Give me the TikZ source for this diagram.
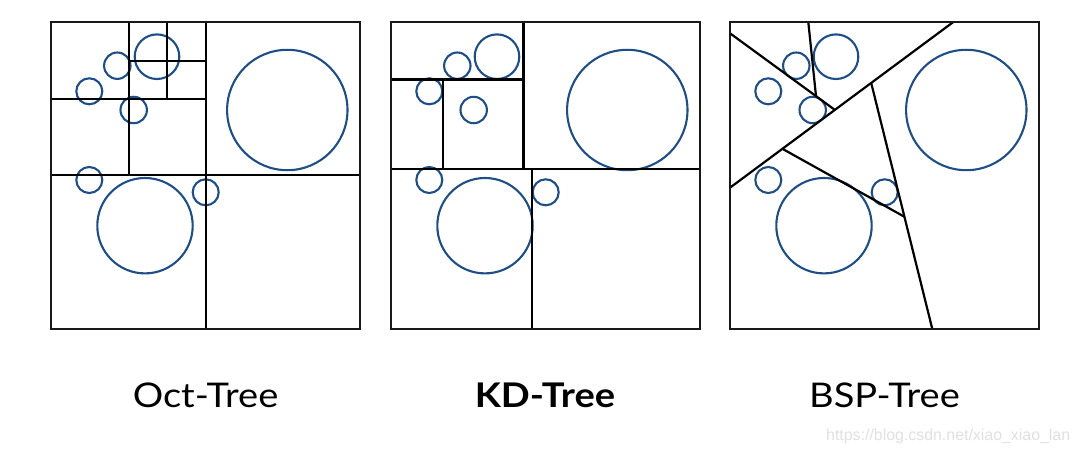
\documentclass[tikz,border=0pt]{standalone}
\usepackage{fontspec}
\setmainfont{Lato}[FakeStretch=1.12]
\newfontfamily\markfont{Liberation Sans}
\definecolor{ballblue}{RGB}{31,78,134}
\tikzset{
  cell/.style={line width=2.2pt, black},
  frame/.style={line width=2.6pt, black!90},
  ball/.style={line width=2.1pt, ballblue},
  caption/.style={font=\fontsize{34}{40}\selectfont, anchor=base}
}
% the same eight balls in every panel (box is 309 x 307)
\newcommand{\drawballs}{%
  \draw [ball] (66.3,43.7) circle (13.2);
  \draw [ball] (38.3,69.3) circle (13);
  \draw [ball] (106,34.7) circle (22.3);
  \draw [ball] (82.7,88) circle (13.2);
  \draw [ball] (38.3,158) circle (13);
  \draw [ball] (154.7,170.3) circle (13);
  \draw [ball] (94,203.7) circle (47.7);
  \draw [ball] (236.3,88) circle (60.2);
}
\begin{document}
\begin{tikzpicture}[x=1pt, y=-1pt]
  \useasboundingbox (0,0) rectangle (1080,452);
  % Oct-Tree
  \begin{scope}[shift={(51,22)}]
    \drawballs
    \draw [cell] (154.7,0) -- (154.7,307);
    \draw [cell] (0,153) -- (309,153);
    \draw [cell] (77.7,0) -- (77.7,153);
    \draw [cell] (0,76.7) -- (154.7,76.7);
    \draw [cell] (116,0) -- (116,76.7);
    \draw [cell] (77.7,38.7) -- (154.7,38.7);
    \draw [frame] (0,0) rectangle (309,307);
  \end{scope}
  % KD-Tree
  \begin{scope}[shift={(391,22)}]
    \drawballs
    \draw [cell] (0,147.3) -- (309,147.3);
    \draw [cell] (141.3,147.3) -- (141.3,307);
    \draw [cell, line width=2.6pt] (132.3,0) -- (132.3,147.3);
    \draw [cell, line width=2.6pt] (0,57.7) -- (132.3,57.7);
    \draw [cell, line width=2.6pt] (52,57.7) -- (52,147.3);
    \draw [frame] (0,0) rectangle (309,307);
  \end{scope}
  % BSP-Tree
  \begin{scope}[shift={(730,22)}]
    \drawballs
    \coordinate (a1) at (223.3,0);
    \coordinate (a2) at (0,165.7);
    \coordinate (b1) at (0,11.3);
    \coordinate (b2) at (intersection of b1--{(105,88)} and a1--a2);
    \coordinate (c1) at (78.3,0);
    \coordinate (c2) at (intersection of c1--{(86,74)} and b1--b2);
    \coordinate (d2) at (202.3,307);
    \coordinate (d1) at (intersection of d2--{(141.7,63)} and a1--a2);
    \coordinate (e1) at (intersection of {(53.3,127.3)}--{(174.3,194.7)} and a1--a2);
    \coordinate (e2) at (intersection of e1--{(174.3,194.7)} and d1--d2);
    \draw [cell] (a1) -- (a2);
    \draw [cell] (b1) -- (b2);
    \draw [cell] (c1) -- (c2);
    \draw [cell] (d1) -- (d2);
    \draw [cell] (e1) -- (e2);
    \draw [frame] (0,0) rectangle (309,307);
  \end{scope}
  \node [caption] (oct) at (205.5,407.7) {Oct-Tree};
  \node [caption, font=\fontsize{34}{40}\selectfont\bfseries] (kd) at (545,407.7) {KD-Tree};
  \node [caption] (bsp) at (884.5,407.7) {BSP-Tree};
  \node [anchor=base west, inner sep=0pt, text=black!12, font=\markfont\fontsize{15.9}{18}\selectfont] (mark) at (826,440) {https://blog.csdn.net/xiao\_xiao\_lan};
\end{tikzpicture}
\end{document}
